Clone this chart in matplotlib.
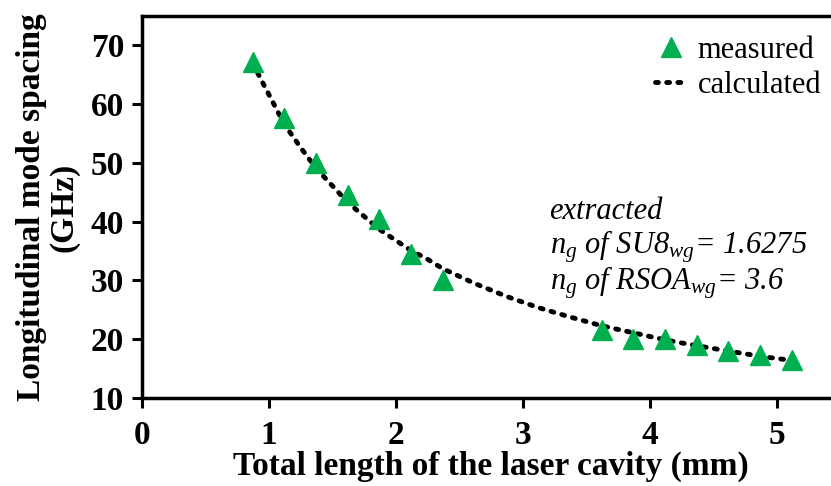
import matplotlib
matplotlib.use("Agg")
import matplotlib.pyplot as plt

plt.rcParams['font.family'] = ['Liberation Serif', 'DejaVu Serif']
plt.rcParams['mathtext.fontset'] = 'custom'
plt.rcParams['mathtext.rm'] = 'Liberation Serif:italic'
plt.rcParams['mathtext.it'] = 'Liberation Serif:italic'

# measured points
meas_x = [0.87, 1.12, 1.37, 1.62, 1.87, 2.12, 2.37, 3.62, 3.87, 4.12, 4.37, 4.62, 4.87, 5.12]
meas_y = [67.2, 57.6, 50.0, 44.5, 40.5, 34.5, 30.0, 21.5, 20.0, 20.0, 19.0, 18.0, 17.3, 16.5]

# calculated curve
calc_x = [0.87, 1.0, 1.12, 1.25, 1.37, 1.5, 1.62, 1.75, 1.87, 2.0, 2.12, 2.25, 2.37, 2.5,
          2.62, 2.87, 3.12, 3.37, 3.62, 3.87, 4.12, 4.37, 4.62, 4.87, 5.12]
calc_y = [67.0, 61.6, 56.6, 52.6, 49.1, 46.1, 43.3, 40.9, 38.7, 36.8, 35.1, 33.6, 32.0, 30.7,
          29.5, 27.3, 25.4, 23.8, 22.3, 21.1, 19.9, 18.9, 18.0, 17.1, 16.4]

fig = plt.figure(figsize=(8.31, 4.86), dpi=100)
ax = fig.add_axes([0.171, 0.181, 0.84, 0.786])

ax.plot(calc_x, calc_y, linestyle=(0, (0.6, 1.7)), color='black', linewidth=3.5,
        dash_capstyle='round', label='calculated', zorder=2)
ax.plot(meas_x, meas_y, linestyle='none', marker='^', markersize=15, color='#00B050',
        label='measured', zorder=3)

ax.set_xlim(0, 5.5)
ax.set_ylim(10, 75)
ax.set_xticks([0, 1, 2, 3, 4, 5])
ax.set_yticks([10, 20, 30, 40, 50, 60, 70])
ax.tick_params(direction='out', length=7, width=2.2, labelsize=24, pad=6)
ax.tick_params(axis='x', pad=9)
for lab in ax.get_xticklabels() + ax.get_yticklabels():
    lab.set_fontweight('bold')
for s in ax.spines.values():
    s.set_linewidth(2.5)

ax.set_xlabel('Total length of the laser cavity (mm)', fontsize=24, fontweight='bold', labelpad=0)
ax.set_ylabel('Longitudinal mode spacing\n(GHz)', fontsize=24, fontweight='bold',
              labelpad=8, linespacing=1.05)

handles, labels = ax.get_legend_handles_labels()
ax.legend(handles[::-1], labels[::-1], loc='upper right', bbox_to_anchor=(1.012, 1.02),
          frameon=False, fontsize=22, handlelength=1.1, handletextpad=0.3, labelspacing=0.2)

ax.text(3.21, 41.8, 'extracted', fontsize=22, style='italic', va='center')
ax.text(3.21, 35.8, r'n$_g$ of SU8$_{wg}$= 1.6275', fontsize=22, style='italic', va='center')
ax.text(3.21, 29.6, r'n$_g$ of RSOA$_{wg}$= 3.6', fontsize=22, style='italic', va='center')

fig.savefig('out.png', dpi=100)
